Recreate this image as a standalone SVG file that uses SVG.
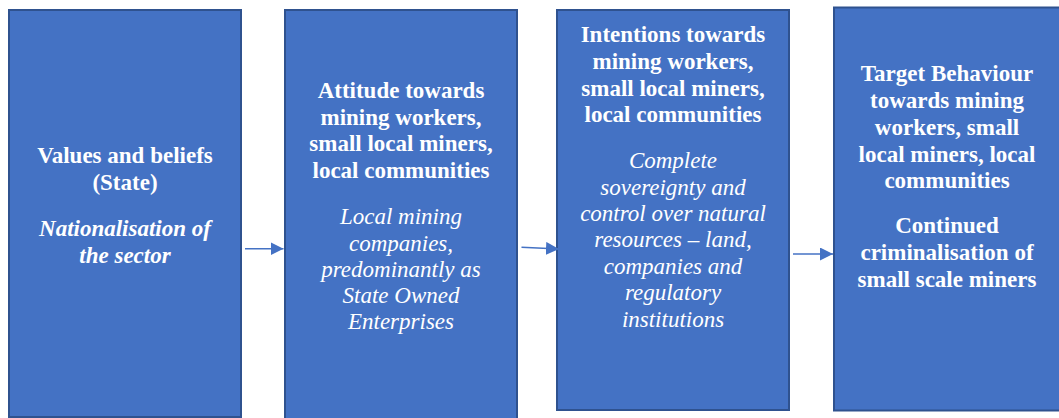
<svg xmlns="http://www.w3.org/2000/svg" width="1059" height="418" viewBox="0 0 1059 418">
  <style>
    .box { fill: #4472C4; stroke: #2F528F; stroke-width: 2; }
    .t { font-family: 'Liberation Serif', Tinos, 'Times New Roman', Times, 'DejaVu Serif', serif; font-size: 23px; fill: #FFFFFF; text-anchor: middle; }
    .b { font-weight: bold; }
    .i { font-style: italic; }
    .link { stroke: #4472C4; stroke-width: 1.5; fill: none; marker-end: url(#head); }
  </style>
  <defs>
    <marker id="head" markerUnits="userSpaceOnUse" markerWidth="13" markerHeight="13" refX="13" refY="6.5" orient="auto">
      <path d="M0,0 L13,6.5 L0,13 Z" fill="#4472C4"/>
    </marker>
  </defs>

  <rect width="1059" height="418" fill="#FFFFFF"/>

  <g id="values">
    <rect class="box" x="9" y="10" width="232" height="407"/>
    <text class="t b" x="125" y="163" font-family="Liberation Serif, serif">Values and beliefs</text>
    <text class="t b" x="125" y="190">(State)</text>
    <text class="t b i" x="125" y="236">Nationalisation of</text>
    <text class="t b i" x="125" y="263">the sector</text>
  </g>

  <g id="attitude">
    <rect class="box" x="285" y="10" width="232" height="420"/>
    <text class="t b" x="401" y="98">Attitude towards</text>
    <text class="t b" x="401" y="124.5">mining workers,</text>
    <text class="t b" x="401" y="151">small local miners,</text>
    <text class="t b" x="401" y="177.5">local communities</text>
    <text class="t i" x="401" y="224">Local mining</text>
    <text class="t i" x="401" y="250.5">companies,</text>
    <text class="t i" x="401" y="277">predominantly as</text>
    <text class="t i" x="401" y="303">State Owned</text>
    <text class="t i" x="401" y="329">Enterprises</text>
  </g>

  <g id="intentions">
    <rect class="box" x="557" y="10" width="232" height="400"/>
    <text class="t b" x="673" y="42">Intentions towards</text>
    <text class="t b" x="673" y="68.5">mining workers,</text>
    <text class="t b" x="673" y="95.5">small local miners,</text>
    <text class="t b" x="673" y="122">local communities</text>
    <text class="t i" x="673" y="168">Complete</text>
    <text class="t i" x="673" y="194.5">sovereignty and</text>
    <text class="t i" x="673" y="220.5">control over natural</text>
    <text class="t i" x="673" y="247">resources – land,</text>
    <text class="t i" x="673" y="273.5">companies and</text>
    <text class="t i" x="673" y="300">regulatory</text>
    <text class="t i" x="673" y="326.5">institutions</text>
  </g>

  <g id="behaviour">
    <rect class="box" x="834" y="7.5" width="240" height="403"/>
    <text class="t b" x="947" y="81">Target Behaviour</text>
    <text class="t b" x="947" y="108">towards mining</text>
    <text class="t b" x="947" y="135">workers, small</text>
    <text class="t b" x="947" y="161.5">local miners, local</text>
    <text class="t b" x="947" y="188">communities</text>
    <text class="t b" x="947" y="233">Continued</text>
    <text class="t b" x="947" y="260">criminalisation of</text>
    <text class="t b" x="947" y="286.5">small scale miners</text>
  </g>

  <g id="connectors">
    <line class="link" x1="245" y1="248.7" x2="283.5" y2="248.7"/>
    <line class="link" x1="521.5" y1="247.3" x2="559" y2="249"/>
    <line class="link" x1="793" y1="254" x2="833" y2="254"/>
  </g>
</svg>
